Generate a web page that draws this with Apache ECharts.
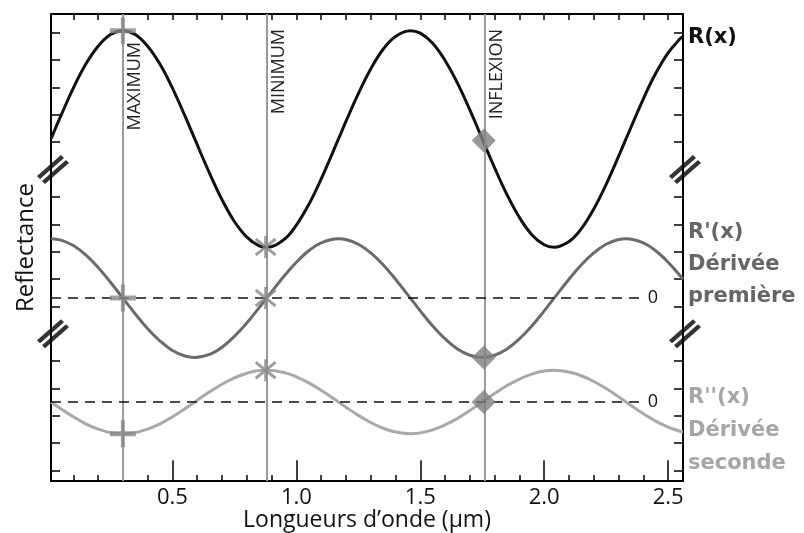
<!DOCTYPE html>
<html>
<head>
<meta charset="utf-8">
<script src="https://cdn.jsdelivr.net/npm/echarts@6/dist/echarts.min.js"></script>
<style>
html,body{margin:0;padding:0;background:#fff;}
#c{width:804px;height:533px;}
</style>
</head>
<body>
<div id="c"></div>
<script>
// ---------- DATA ----------
const wavelengths = [0.01,0.05,0.10,0.15,0.20,0.25,0.30,0.35,0.40,0.45,0.50,0.55,0.59,0.65,0.70,0.75,0.80,0.85,0.88,0.95,1.00,1.05,1.10,1.17,1.20,1.25,1.30,1.35,1.40,1.46,1.50,1.55,1.60,1.65,1.70,1.75,1.80,1.85,1.90,1.95,2.00,2.04,2.10,2.15,2.20,2.25,2.30,2.33,2.40,2.45,2.50,2.55,2.56];
const reflectance = [12.12,12.97,13.98,14.85,15.51,15.94,16.08,15.94,15.51,14.85,13.98,12.97,12.12,10.86,9.90,9.10,8.53,8.21,8.16,8.44,8.97,9.72,10.65,12.12,12.76,13.78,14.68,15.40,15.87,16.08,15.99,15.62,14.99,14.16,13.18,12.12,11.06,10.08,9.25,8.62,8.25,8.16,8.37,8.84,9.56,10.46,11.48,12.12,13.59,14.52,15.27,15.80,15.87];
const firstDerivative = [8.47,8.42,8.22,7.88,7.42,6.88,6.30,5.72,5.18,4.73,4.38,4.18,4.13,4.24,4.50,4.90,5.39,5.95,6.30,7.10,7.61,8.03,8.32,8.47,8.44,8.27,7.95,7.52,6.99,6.30,5.83,5.28,4.81,4.44,4.21,4.13,4.21,4.44,4.81,5.28,5.83,6.30,6.99,7.52,7.95,8.27,8.44,8.47,8.32,8.03,7.61,7.10,6.99];
const secondDerivative = [2.50,2.25,1.96,1.70,1.51,1.38,1.34,1.38,1.51,1.70,1.96,2.25,2.50,2.87,3.15,3.38,3.55,3.65,3.66,3.58,3.42,3.20,2.93,2.50,2.31,2.01,1.75,1.54,1.40,1.34,1.37,1.48,1.66,1.90,2.19,2.50,2.81,3.10,3.34,3.52,3.63,3.66,3.60,3.46,3.25,2.99,2.69,2.50,2.07,1.80,1.58,1.42,1.40];

const xMin = 0.01, xMax = 2.56;
const yMin = -0.39, yMax = 16.69;
const xMinorTicks = [0.1,0.2,0.3,0.4,0.5,0.6,0.7,0.8,0.9,1.0,1.1,1.2,1.3,1.4,1.5,1.6,1.7,1.8,1.9,2.0,2.1,2.2,2.3,2.4,2.5];
const xLabelValues = [0.5,1.0,1.5,2.0,2.5];
const yTickValues = [0,1,2,3,4,6,7,8,9,10,12,13,14,15,16];
const breakValues = [5,11];

const featureNames = ['MAXIMUM','MINIMUM','INFLEXION'];
const featureX = [0.30,0.876,1.756];
const maxPoints = [[0.30,16.08],[0.30,6.30],[0.30,1.34]];
const minPoints = [[0.876,8.17],[0.876,6.30],[0.876,3.66]];
const inflexionPoints = [[1.756,12.06],[1.756,4.13],[1.756,2.50]];
const zeroLevels = [6.30,2.50];
const zeroLineEnd = 2.385;

const xTitle = 'Longueurs d’onde (µm)';
const yTitle = 'Reflectance';

// ---------- CHART ----------
const FONT = '"Open Sans", sans-serif';
const zip = (xs, ys) => xs.map((x, i) => [x, ys[i]]);
const chart = echarts.init(document.getElementById('c'), null, {renderer: 'canvas'});

const axisLine = {show: true, onZero: false, lineStyle: {color: '#000', width: 2}};
const tickStyle = {color: '#000', width: 1.5};

function xAxisDef(pos, ticks, len, showLine, withLabels) {
  return {
    type: 'value', position: pos, min: xMin, max: xMax,
    axisLine: showLine ? axisLine : {show: false},
    axisTick: {show: true, inside: true, length: len, customValues: ticks, lineStyle: tickStyle},
    axisLabel: withLabels ? {show: true, customValues: xLabelValues, formatter: v => v.toFixed(1), fontSize: 22, color: '#111', margin: 6, fontFamily: FONT} : {show: false},
    splitLine: {show: false},
    name: withLabels ? xTitle : '', nameLocation: 'middle', nameGap: 28, nameMoveOverlap: false,
    nameTextStyle: {fontSize: 23, color: '#111', fontFamily: FONT}
  };
}
function yAxisDef(pos, withName) {
  return {
    type: 'value', position: pos, min: yMin, max: yMax,
    axisLine: axisLine,
    axisTick: {show: true, inside: true, length: 9, customValues: yTickValues, lineStyle: tickStyle},
    axisLabel: {show: false}, splitLine: {show: false},
    name: withName ? yTitle : '', nameLocation: 'middle', nameGap: 13, nameRotate: 90, nameMoveOverlap: false,
    nameTextStyle: {fontSize: 24, color: '#111', fontFamily: FONT}
  };
}

const plusPath = 'path://M0,11 L11,11 L11,0 L15,0 L15,11 L26,11 L26,16 L15,16 L15,27 L11,27 L11,16 L0,16 Z';
const starPath = 'path://M10,0 L10,22 M0,3 L20,19 M20,3 L0,19';
const breakPath = 'path://M0,21 L24,0 L27,3 L3,24 Z M5,26 L29,5 L32,8 L8,29 Z';

const option = {
  animation: false,
  backgroundColor: '#fff',
  grid: {left: 51, right: 121, top: 14, bottom: 52, outerBoundsMode: 'none', containLabel: false},
  xAxis: [
    xAxisDef('bottom', xMinorTicks, 6, true, true),
    xAxisDef('bottom', xLabelValues, 10, false, false),
    xAxisDef('top', xMinorTicks, 6, true, false),
    xAxisDef('top', xLabelValues, 10, false, false)
  ],
  yAxis: [yAxisDef('left', true), yAxisDef('right', false)],
  graphic: [
    {type: 'text', x: 688, y: 38, style: {text: 'R(x)', font: 'bold 21px "DejaVu Sans"', fill: '#111', verticalAlign: 'middle'}},
    {type: 'text', x: 688, y: 233, style: {text: "R'(x)", font: 'bold 21px "DejaVu Sans"', fill: '#666', verticalAlign: 'middle'}},
    {type: 'text', x: 688, y: 265, style: {text: 'Dérivée', font: 'bold 21px "DejaVu Sans"', fill: '#666', verticalAlign: 'middle'}},
    {type: 'text', x: 688, y: 297, style: {text: 'première', font: 'bold 21px "DejaVu Sans"', fill: '#666', verticalAlign: 'middle'}},
    {type: 'text', x: 688, y: 398, style: {text: "R''(x)", font: 'bold 21px "DejaVu Sans"', fill: '#a6a6a6', verticalAlign: 'middle'}},
    {type: 'text', x: 688, y: 431, style: {text: 'Dérivée', font: 'bold 21px "DejaVu Sans"', fill: '#a6a6a6', verticalAlign: 'middle'}},
    {type: 'text', x: 688, y: 464, style: {text: 'seconde', font: 'bold 21px "DejaVu Sans"', fill: '#a6a6a6', verticalAlign: 'middle'}}
  ],
  series: [
    {
      type: 'line', data: [], z: 1, silent: true,
      markLine: {
        silent: true, symbol: 'none', animation: false,
        lineStyle: {color: '#9a9a9a', width: 2, type: 'solid'},
        label: {show: true, position: 'insideEndBottom', formatter: '{b}', fontSize: 18, color: '#222', fontFamily: FONT},
        data: featureX.map((x, i) => ({xAxis: x, name: featureNames[i], label: {distance: i === 0 ? [28, 3] : [15, 3]}}))
      }
    },
    {
      type: 'line', data: [], z: 2, silent: true,
      markLine: {
        silent: true, symbol: 'none', animation: false,
        lineStyle: {color: '#111', width: 1.5, type: [10, 7]},
        label: {show: true, position: 'end', formatter: '0', fontSize: 18, color: '#111', distance: 8, fontFamily: FONT},
        data: zeroLevels.map(v => [{coord: [xMin, v]}, {coord: [zeroLineEnd, v]}])
      }
    },
    {type: 'line', name: 'R(x)', data: zip(wavelengths, reflectance), smooth: 0.4, showSymbol: false, lineStyle: {color: '#111', width: 3}, z: 3},
    {type: 'line', name: "R'(x)", data: zip(wavelengths, firstDerivative), smooth: 0.4, showSymbol: false, lineStyle: {color: '#6b6b6b', width: 3}, z: 3},
    {type: 'line', name: "R''(x)", data: zip(wavelengths, secondDerivative), smooth: 0.4, showSymbol: false, lineStyle: {color: '#a9a9a9', width: 3}, z: 3},
    {type: 'scatter', data: maxPoints, symbol: plusPath, symbolSize: [26, 27], itemStyle: {color: '#878787'}, z: 5, clip: false},
    {type: 'scatter', data: minPoints, symbol: starPath, symbolSize: [20, 22], itemStyle: {color: 'none', borderColor: '#878787', borderWidth: 3}, z: 5, clip: false},
    {type: 'scatter', data: inflexionPoints, symbol: 'diamond', symbolSize: [24, 24], itemStyle: {color: '#808080'}, z: 5, clip: false},
    {type: 'scatter', data: breakValues.flatMap(v => [[xMin, v], [xMax, v]]), symbol: breakPath, symbolSize: [32, 29], symbolOffset: [2, 0], itemStyle: {color: '#000'}, z: 6, clip: false}
  ]
};
chart.setOption(option);
</script>
</body>
</html>
